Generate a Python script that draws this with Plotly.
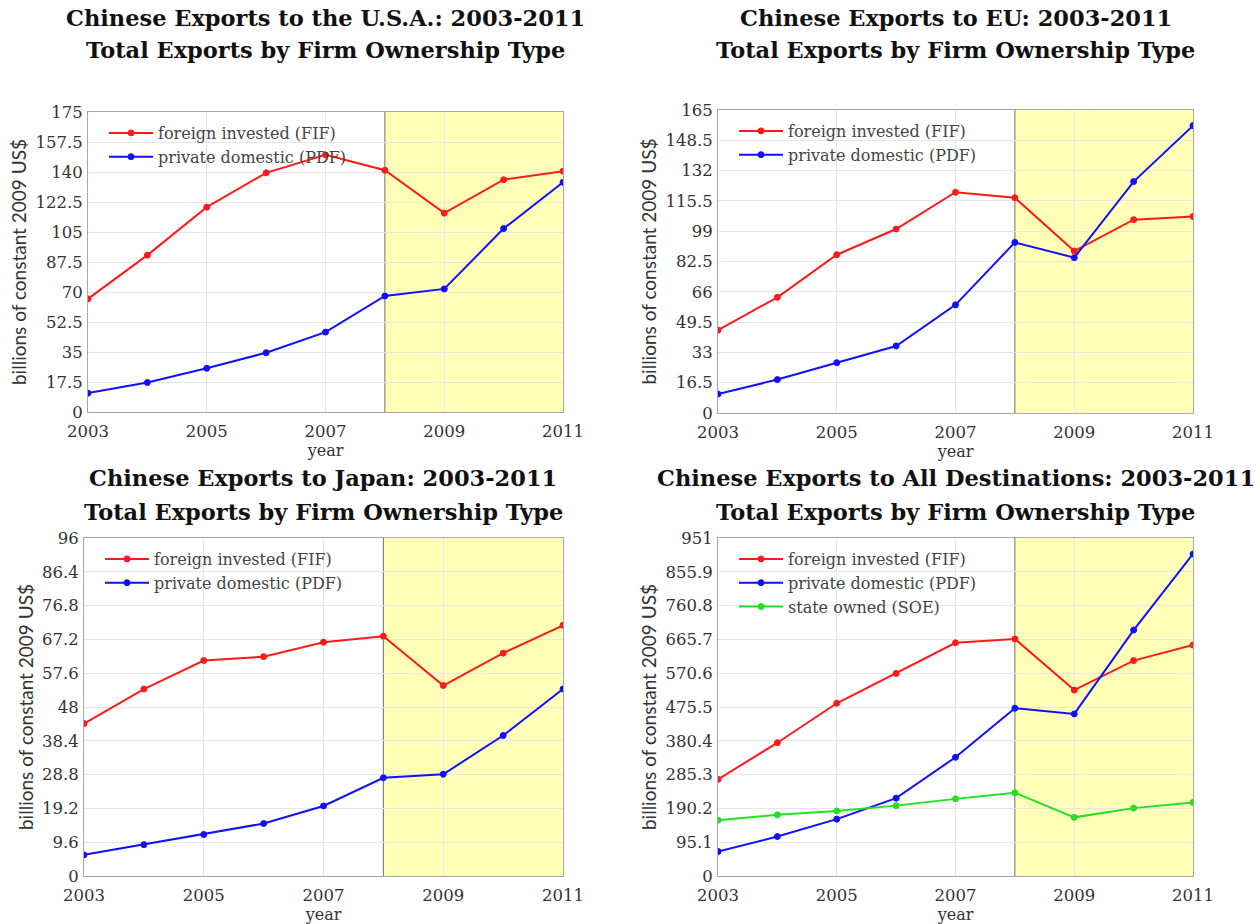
import plotly.graph_objects as go

years = [2003, 2004, 2005, 2006, 2007, 2008, 2009, 2010, 2011]

usa_fif = [66, 91.5, 119.5, 139.5, 150, 141, 116, 135.5, 140.5]
usa_pdf = [11, 17.2, 25.5, 34.6, 46.6, 67.7, 71.8, 107, 134]

eu_fif = [45.1, 63, 86.2, 100.2, 120.2, 117.2, 88.2, 105.3, 107]
eu_pdf = [10.3, 18.2, 27.4, 36.5, 58.9, 92.9, 84.6, 126, 156.5]

jp_fif = [43.3, 53.1, 61.2, 62.3, 66.4, 68.1, 54.1, 63.3, 71.2]
jp_pdf = [6, 8.9, 11.8, 14.9, 19.9, 27.9, 28.9, 39.9, 53.1]

all_fif = [272, 375, 486, 570, 656, 667, 523, 606, 650]
all_pdf = [69, 111, 160, 219, 334, 472, 456, 692, 906]
all_soe = [157, 172, 183, 198, 217, 234, 165, 191, 207]

usa_ticks = [0, 17.5, 35, 52.5, 70, 87.5, 105, 122.5, 140, 157.5, 175]
eu_ticks = [0, 16.5, 33, 49.5, 66, 82.5, 99, 115.5, 132, 148.5, 165]
jp_ticks = [0, 9.6, 19.2, 28.8, 38.4, 48, 57.6, 67.2, 76.8, 86.4, 96]
all_ticks = [0, 95.1, 190.2, 285.3, 380.4, 475.5, 570.6, 665.7, 760.8, 855.9, 951]

x_ticks = [2003, 2005, 2007, 2009, 2011]
recession_start = 2008

titles = [
    ("Chinese Exports to the U.S.A.: 2003-2011", "Total Exports by Firm Ownership Type"),
    ("Chinese Exports to EU: 2003-2011", "Total Exports by Firm Ownership Type"),
    ("Chinese Exports to Japan: 2003-2011", "Total Exports by Firm Ownership Type"),
    ("Chinese Exports to All Destinations: 2003-2011", "Total Exports by Firm Ownership Type"),
]

lbl_fif = "foreign invested (FIF)"
lbl_pdf = "private domestic (PDF)"
lbl_soe = "state owned (SOE)"

W, H = 1260, 924
RED, BLUE, GREEN = "#ff1a1a", "#1010ff", "#22e022"
SERIF = "DejaVu Serif"

# panel pixel boxes: left, right, top, bottom
boxes = [
    (88, 563, 112, 412),
    (718, 1193, 110, 413),
    (84, 563, 538, 876),
    (718, 1193, 538, 876),
]
title_y = [(18, 50), (18, 50), (478, 512), (478, 512)]

panels = [
    (usa_ticks, [(usa_fif, lbl_fif, RED), (usa_pdf, lbl_pdf, BLUE)]),
    (eu_ticks, [(eu_fif, lbl_fif, RED), (eu_pdf, lbl_pdf, BLUE)]),
    (jp_ticks, [(jp_fif, lbl_fif, RED), (jp_pdf, lbl_pdf, BLUE)]),
    (all_ticks, [(all_fif, lbl_fif, RED), (all_pdf, lbl_pdf, BLUE), (all_soe, lbl_soe, GREEN)]),
]

fig = go.Figure()
layout = dict(
    width=W, height=H, margin=dict(l=0, r=0, t=0, b=0, autoexpand=False),
    paper_bgcolor="white", plot_bgcolor="white",
    showlegend=True, shapes=[], annotations=[],
)

for i, ((ticks, series), (l, r, t, b)) in enumerate(zip(panels, boxes)):
    n = i + 1
    xa = "xaxis" if n == 1 else f"xaxis{n}"
    ya = "yaxis" if n == 1 else f"yaxis{n}"
    xr = "x" if n == 1 else f"x{n}"
    yr = "y" if n == 1 else f"y{n}"
    lg = "legend" if n == 1 else f"legend{n}"
    layout[xa] = dict(
        domain=[l / W, r / W], anchor=yr, range=[2003, 2011], automargin=False,
        tickmode="array", tickvals=x_ticks, ticktext=[str(v) for v in x_ticks],
        showgrid=True, gridcolor="#e6e6e6", gridwidth=1,
        showline=True, linecolor="#a8a8a8", linewidth=1, mirror=True,
        zeroline=False, ticks="", ticklabelstandoff=4,
        tickfont=dict(family=SERIF, size=16.5, color="#333333"),
        title=dict(text="year", font=dict(family=SERIF, size=16, color="#333333"), standoff=2),
    )
    layout[ya] = dict(
        domain=[1 - b / H, 1 - t / H], anchor=xr, range=[0, ticks[-1]], automargin=False,
        tickmode="array", tickvals=ticks, ticktext=[f"{v:g}" for v in ticks],
        showgrid=True, gridcolor="#e6e6e6", gridwidth=1,
        showline=True, linecolor="#a8a8a8", linewidth=1, mirror=True,
        zeroline=False, ticks="", ticklabelstandoff=1,
        tickfont=dict(family=SERIF, size=16.5, color="#333333"),
        title=dict(text="billions of constant 2009 US$", font=dict(family="Lato", size=19, color="#333333"), standoff=3),
    )
    layout[lg] = dict(
        x=(l + 16) / W, y=1 - (t + 4) / H, xanchor="left", yanchor="top",
        bgcolor="rgba(0,0,0,0)", borderwidth=0,
        font=dict(family=SERIF, size=16, color="#444444"),
        tracegroupgap=0, itemwidth=44,
    )
    layout["shapes"].append(dict(
        type="rect", xref=xr, yref=yr, x0=recession_start, x1=2011, y0=0, y1=ticks[-1],
        fillcolor="#ffffb8", line=dict(width=0), layer="below",
    ))
    layout["shapes"].append(dict(
        type="line", xref=xr, yref=yr, x0=recession_start, x1=recession_start, y0=0, y1=ticks[-1],
        line=dict(color="#707060", width=1), layer="below",
    ))
    cx = (l + r) / 2 / W
    for txt, py in zip(titles[i], title_y[i]):
        layout["annotations"].append(dict(
            text=f"<b>{txt}</b>", xref="paper", yref="paper", x=cx, y=1 - py / H,
            xanchor="center", yanchor="middle", showarrow=False,
            font=dict(family=SERIF, size=22.5, color="#111111"),
        ))
    for vals, name, col in series:
        fig.add_trace(go.Scatter(
            x=years, y=vals, name=name, mode="lines+markers",
            line=dict(color=col, width=2),
            marker=dict(symbol="circle", size=6, color=col, line=dict(color=col, width=1)),
            xaxis=xr, yaxis=yr, legend=lg,
        ))

fig.update_layout(**layout)
fig.write_html("out.html")
